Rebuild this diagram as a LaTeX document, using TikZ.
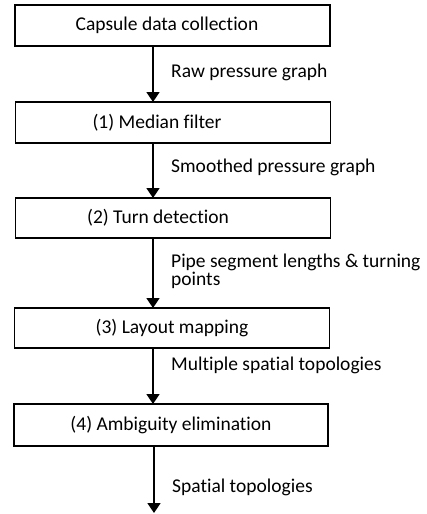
\documentclass[tikz,border=0pt]{standalone}
\usepackage{fontspec}
\setmainfont[Ligatures=CommonOff]{Carlito}
\usetikzlibrary{arrows.meta}
\begin{document}
\begin{tikzpicture}[x=1pt,y=-1pt,
  box/.style={draw, line width=1.2pt, minimum width=315pt, inner sep=0pt, font=\fontsize{19.5}{22}\selectfont},
  flow/.style={line width=1.8pt, -{Triangle[width=13pt,length=10pt]}},
  lbl/.style={anchor=west, font=\fontsize{19.5}{22}\selectfont, inner sep=0pt, align=left}]
\useasboundingbox (0,0) rectangle (427,514);
\node[box, minimum height=41pt] (b0) at (172.5,25.5) {Capsule data collection\hspace*{11pt}};
\node[box, minimum height=41pt] (b1) at (173,122.5) {(1) Median filter\hspace*{32pt}};
\node[box, minimum height=40pt] (b2) at (173,218) {(2) Turn detection\hspace*{30pt}};
\node[box, minimum height=40pt] (b3) at (172,328) {(3) Layout mapping};
\node[box, minimum height=42pt, minimum width=314pt] (b4) at (171,425) {(4) Ambiguity elimination};
\coordinate (end) at (154,513);
\draw[flow] (153,46) -- (153,102);
\draw[flow] (153,143) -- (153,198);
\draw[flow] (153,238) -- (153,308);
\draw[flow] (153,348) -- (153,404);
\draw[flow] (154,446) -- (end);
\node[lbl] (l0) at (171,72) {Raw pressure graph};
\node[lbl] (l1) at (171,167) {Smoothed pressure graph};
\node[lbl] (l2) at (171,262) {Pipe segment lengths \& turning};
\node[lbl] (l2b) at (171,280) {points};
\node[lbl] (l3) at (171,365) {Multiple spatial topologies};
\node[lbl] (l4) at (172,487) {Spatial topologies};
\end{tikzpicture}
\end{document}
